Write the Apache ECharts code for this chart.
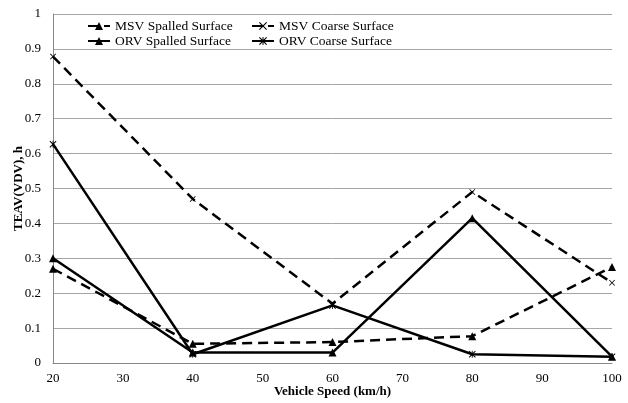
<!DOCTYPE html>
<html lang="en">
<head>
    <meta charset="UTF-8">
    <title>TEAV vs Vehicle Speed</title>
    <script src="https://cdn.jsdelivr.net/npm/echarts@6.0.0/dist/echarts.min.js"></script>
    <style>
        body { margin: 0; background: #fff; }
    </style>
</head>
<body>
<div id="chart1" style="width: 628px;height:403px;"></div>

<script>
    // values
    var speeds = [20, 40, 60, 80, 100];
    var msvSpalled = [0.27, 0.055, 0.06, 0.077, 0.275];
    var msvCoarse = [0.878, 0.47, 0.17, 0.49, 0.23];
    var orvSpalled = [0.30, 0.03, 0.03, 0.415, 0.018];
    var orvCoarse = [0.627, 0.025, 0.165, 0.025, 0.018];

    var crossPath = 'path://M0,1L1,0L5,4L9,0L10,1L6,5L10,9L9,10L5,6L1,10L0,9L4,5Z';
    var starPath = 'path://M0,1L1,0L5,4L9,0L10,1L6,5L10,9L9,10L5,6L1,10L0,9L4,5Z M4.4,0L5.6,0L5.6,10L4.4,10Z';
    var font = '"Liberation Serif", "Times New Roman", serif';

    function pairs(vals) {
        return speeds.map(function (s, i) { return [s, vals[i]]; });
    }

    function makeSeries(name, vals, dashed, symbol, size) {
        return {
            name: name,
            type: 'line',
            data: pairs(vals),
            symbol: symbol,
            symbolSize: size,
            showAllSymbol: true,
            lineStyle: { color: '#000', width: 2.5, type: dashed ? [10, 6] : 'solid' },
            itemStyle: { color: '#000' },
            emphasis: { disabled: true },
            animation: false
        };
    }

    var chartDom = document.getElementById('chart1');
    var myChart = echarts.init(chartDom);
    var legendText = { fontFamily: font, fontSize: 13.5, color: '#000' };
    var option = {
        textStyle: { fontFamily: font },
        grid: { left: 53, right: 16, top: 14, bottom: 38 },
        legend: [
            {
                orient: 'vertical', left: 82, top: 14, itemWidth: 22, itemHeight: 10, itemGap: 1,
                textStyle: legendText,
                data: ['MSV Spalled Surface', 'ORV Spalled Surface']
            },
            {
                orient: 'vertical', left: 246, top: 14, itemWidth: 22, itemHeight: 10, itemGap: 1,
                textStyle: legendText,
                data: ['MSV Coarse Surface', 'ORV Coarse Surface']
            }
        ],
        xAxis: {
            type: 'value', min: 20, max: 100, interval: 10,
            name: 'Vehicle Speed (km/h)', nameLocation: 'middle', nameGap: 22,
            nameMoveOverlap: false,
            nameTextStyle: { fontFamily: font, fontSize: 13, fontWeight: 'bold', color: '#000' },
            axisLine: { lineStyle: { color: '#888' } },
            axisTick: { show: false },
            axisLabel: { fontFamily: font, fontSize: 13, color: '#000', margin: 9 },
            splitLine: { show: false }
        },
        yAxis: {
            type: 'value', min: 0, max: 1, interval: 0.1,
            name: 'TEAV(VDV), h', nameLocation: 'middle', nameGap: 28,
            nameMoveOverlap: false,
            nameTextStyle: { fontFamily: font, fontSize: 13, fontWeight: 'bold', color: '#000' },
            axisLine: { show: true, lineStyle: { color: '#888' } },
            axisTick: { show: false },
            axisLabel: { fontFamily: font, fontSize: 13, color: '#000', margin: 12 },
            splitLine: { lineStyle: { color: '#a6a6a6' } }
        },
        series: [
            makeSeries('MSV Spalled Surface', msvSpalled, true, 'triangle', 8),
            makeSeries('MSV Coarse Surface', msvCoarse, true, crossPath, 6),
            makeSeries('ORV Spalled Surface', orvSpalled, false, 'triangle', 8),
            makeSeries('ORV Coarse Surface', orvCoarse, false, starPath, 7)
        ]
    };
    myChart.setOption(option);
</script>
</body>
</html>
